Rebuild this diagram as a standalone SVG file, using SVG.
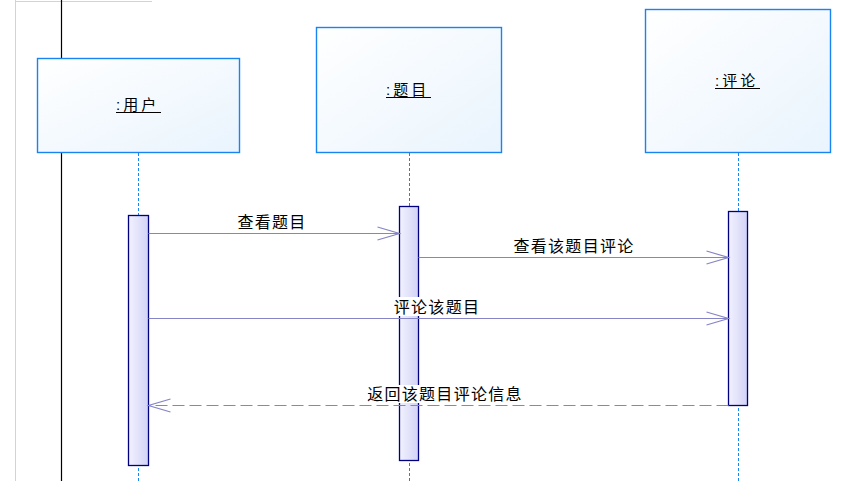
<svg xmlns="http://www.w3.org/2000/svg" width="849" height="482" viewBox="0 0 849 482">
<style>
.box{stroke:#1784f2;stroke-width:1.4;fill:url(#boxg)}
.lbl{font-family:"Liberation Sans","Noto Sans CJK SC",sans-serif;font-size:15px;fill:#000;letter-spacing:3px}
.ul{stroke:#000;stroke-width:1.2}
.life{stroke:#1784f2;stroke-width:1;stroke-dasharray:3,2;fill:none}
.bar{stroke:#000080;stroke-width:1.3;fill:url(#barg)}
.msg{stroke:#8484c6;stroke-width:1.2;fill:none}
.dash{stroke-dasharray:12,5}
.mt{font-family:"Liberation Sans","Noto Sans CJK SC",sans-serif;font-size:16px;fill:#000;letter-spacing:1.3px;text-anchor:middle}
</style>
<defs>
<linearGradient id="boxg" x1="0" y1="0" x2="1" y2="1">
<stop offset="0" stop-color="#ffffff"/>
<stop offset="1" stop-color="#e9f4fd"/>
</linearGradient>
<linearGradient id="barg" x1="0" y1="0" x2="1" y2="0">
<stop offset="0" stop-color="#f2f2ff"/>
<stop offset="1" stop-color="#d2d2f6"/>
</linearGradient>
</defs>
<rect width="849" height="482" fill="#ffffff"/>
<g id="frame">
<line x1="15.5" y1="0" x2="15.5" y2="481" stroke="#d4d0e4" stroke-width="1"/>
<line x1="15" y1="1.5" x2="152" y2="1.5" stroke="#d4d0e4" stroke-width="1"/>
<line x1="61.5" y1="0" x2="61.5" y2="481" stroke="#000" stroke-width="1.2"/>
</g>
<g id="lifelines">
<line class="life" x1="138.5" y1="153" x2="138.5" y2="482"/>
<line class="life" x1="409.5" y1="153" x2="409.5" y2="482"/>
<line class="life" x1="738.5" y1="153" x2="738.5" y2="482"/>
</g>
<g id="user">
<rect class="box" x="37.5" y="58.5" width="202" height="94"/>
<text class="lbl" x="116" y="110">:用户</text>
<line class="ul" x1="116" y1="112.5" x2="161" y2="112.5"/>
</g>
<g id="topic">
<rect class="box" x="316.5" y="27.5" width="185" height="125"/>
<text class="lbl" x="386" y="95">:题目</text>
<line class="ul" x1="386" y1="97.5" x2="431" y2="97.5"/>
</g>
<g id="comment">
<rect class="box" x="645.5" y="9.5" width="185" height="143"/>
<text class="lbl" x="715" y="86">:评论</text>
<line class="ul" x1="715" y1="88.5" x2="760" y2="88.5"/>
</g>
<g id="activations">
<rect class="bar" x="128.5" y="215.5" width="20" height="250"/>
<rect class="bar" x="399.5" y="206.5" width="19" height="254"/>
<rect class="bar" x="728.5" y="211.5" width="19" height="194"/>
</g>
<g id="connectors">
<line class="msg" x1="148.5" y1="233.5" x2="399.5" y2="233.5"/>
<polyline class="msg" points="377.5,227 399.5,233.5 377.5,240"/>
<text class="mt" x="272" y="228">查看题目</text>
<line class="msg" x1="418.5" y1="257.5" x2="728.5" y2="257.5"/>
<polyline class="msg" points="706.5,251 728.5,257.5 706.5,264"/>
<text class="mt" x="574" y="252">查看该题目评论</text>
<line class="msg" x1="148.5" y1="318.5" x2="728.5" y2="318.5"/>
<polyline class="msg" points="706.5,312 728.5,318.5 706.5,325"/>
<rect x="393" y="297" width="89" height="19" fill="#fff"/>
<text class="mt" x="437" y="313">评论该题目</text>
<line class="msg dash" x1="728.5" y1="405.5" x2="148.5" y2="405.5"/>
<polyline class="msg" points="170.5,399 148.5,405.5 170.5,412"/>
<rect x="364" y="385" width="162" height="18" fill="#fff"/>
<text class="mt" x="445" y="400">返回该题目评论信息</text>
</g>
</svg>
